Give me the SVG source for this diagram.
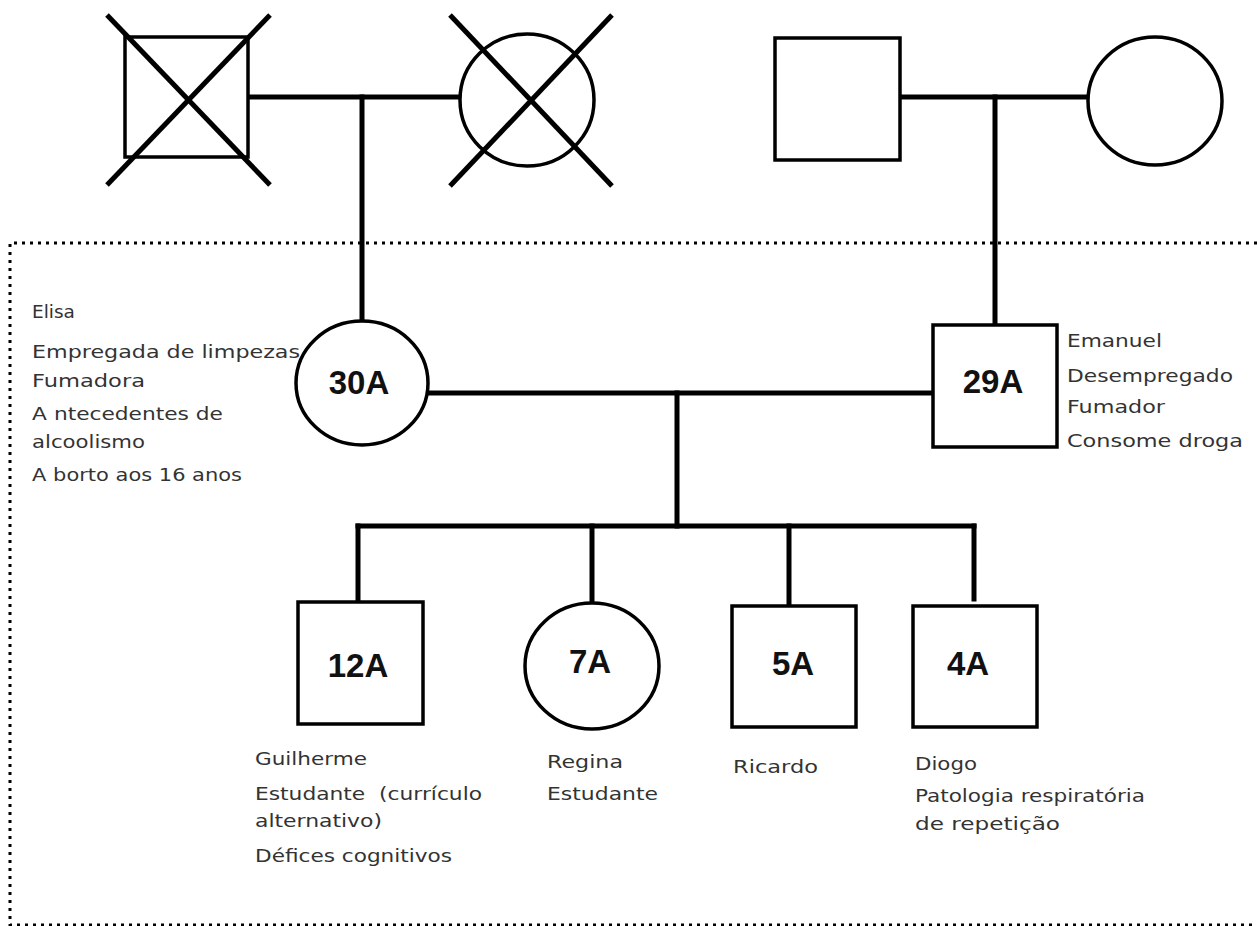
<svg xmlns="http://www.w3.org/2000/svg" width="1257" height="926" viewBox="0 0 1257 926">
<style>
.shape{fill:#fff;stroke:#000;stroke-width:3.5}
.cross{stroke:#000;stroke-width:5;stroke-linecap:butt}
.conn{stroke:#000;stroke-width:5;fill:none;stroke-linecap:square}
.frame{fill:none;stroke:#000;stroke-width:3;stroke-dasharray:3 5}
.lbl{font-family:"Liberation Sans",Arial,sans-serif;font-weight:bold;font-size:33px;fill:#111;text-anchor:middle}
.txt{font-family:"DejaVu Sans","Liberation Sans",sans-serif;font-size:18.5px;fill:#333}
</style>
<rect width="1257" height="926" fill="#fff"/>
<path class="frame" d="M1257,243 H10 V925 H1257"/>
<g id="connectors">
<line class="conn" x1="248" y1="97" x2="460" y2="97"/>
<line class="conn" x1="362" y1="97" x2="362" y2="320"/>
<line class="conn" x1="900" y1="97" x2="1088" y2="97"/>
<line class="conn" x1="995" y1="97" x2="995" y2="325"/>
<line class="conn" x1="428" y1="393" x2="933" y2="393"/>
<line class="conn" x1="677" y1="393" x2="677" y2="526"/>
<line class="conn" x1="358" y1="526" x2="974" y2="526"/>
<line class="conn" x1="358" y1="526" x2="358" y2="602"/>
<line class="conn" x1="592" y1="526" x2="592" y2="603"/>
<line class="conn" x1="789" y1="526" x2="789" y2="606"/>
<line class="conn" x1="974" y1="526" x2="974" y2="599"/>
</g>
<g id="gf-paternal">
<rect class="shape" x="125" y="37" width="123" height="120"/>
<line class="cross" x1="107" y1="15" x2="270" y2="185"/>
<line class="cross" x1="270" y1="15" x2="107" y2="185"/>
</g>
<g id="gm-paternal">
<ellipse class="shape" cx="527" cy="100" rx="67" ry="66"/>
<line class="cross" x1="450" y1="15" x2="612" y2="186"/>
<line class="cross" x1="612" y1="15" x2="450" y2="186"/>
</g>
<g id="gf-maternal">
<rect class="shape" x="775" y="38" width="125" height="122"/>
</g>
<g id="gm-maternal">
<ellipse class="shape" cx="1155" cy="101" rx="67" ry="64"/>
</g>
<g id="elisa">
<ellipse class="shape" cx="362" cy="383" rx="66" ry="62"/>
<text class="lbl" x="359" y="394">30A</text>
<text class="txt" x="32" y="318">Elisa</text>
<text class="txt" x="32" y="358" textLength="268" lengthAdjust="spacingAndGlyphs">Empregada de limpezas</text>
<text class="txt" x="32" y="387" textLength="113" lengthAdjust="spacingAndGlyphs">Fumadora</text>
<text class="txt" x="32" y="420" textLength="191" lengthAdjust="spacingAndGlyphs">A<tspan dx="6">ntecedentes de</tspan></text>
<text class="txt" x="32" y="448" textLength="113" lengthAdjust="spacingAndGlyphs">alcoolismo</text>
<text class="txt" x="32" y="481" textLength="210" lengthAdjust="spacingAndGlyphs">A<tspan dx="6">borto aos 16 anos</tspan></text>
</g>
<g id="emanuel">
<rect class="shape" x="933" y="325" width="124" height="122"/>
<text class="lbl" x="993" y="393">29A</text>
<text class="txt" x="1067" y="347" textLength="95" lengthAdjust="spacingAndGlyphs">Emanuel</text>
<text class="txt" x="1067" y="382" textLength="166" lengthAdjust="spacingAndGlyphs">Desempregado</text>
<text class="txt" x="1067" y="413" textLength="98" lengthAdjust="spacingAndGlyphs">Fumador</text>
<text class="txt" x="1067" y="447" textLength="176" lengthAdjust="spacingAndGlyphs">Consome droga</text>
</g>
<g id="guilherme">
<rect class="shape" x="298" y="602" width="125" height="122"/>
<text class="lbl" x="358" y="677">12A</text>
<text class="txt" x="255" y="765" textLength="112" lengthAdjust="spacingAndGlyphs">Guilherme</text>
<text class="txt" x="255" y="800" textLength="227" lengthAdjust="spacingAndGlyphs">Estudante&#160; (currículo</text>
<text class="txt" x="255" y="827" textLength="127" lengthAdjust="spacingAndGlyphs">alternativo)</text>
<text class="txt" x="255" y="862" textLength="197" lengthAdjust="spacingAndGlyphs">Défices cognitivos</text>
</g>
<g id="regina">
<ellipse class="shape" cx="592" cy="666" rx="67" ry="63"/>
<text class="lbl" x="590" y="673">7A</text>
<text class="txt" x="547" y="768" textLength="76" lengthAdjust="spacingAndGlyphs">Regina</text>
<text class="txt" x="547" y="800" textLength="111" lengthAdjust="spacingAndGlyphs">Estudante</text>
</g>
<g id="ricardo">
<rect class="shape" x="732" y="606" width="124" height="121"/>
<text class="lbl" x="793" y="675">5A</text>
<text class="txt" x="733" y="773" textLength="85" lengthAdjust="spacingAndGlyphs">Ricardo</text>
</g>
<g id="diogo">
<rect class="shape" x="913" y="606" width="124" height="121"/>
<text class="lbl" x="968" y="675">4A</text>
<text class="txt" x="915" y="770" textLength="62" lengthAdjust="spacingAndGlyphs">Diogo</text>
<text class="txt" x="915" y="802" textLength="230" lengthAdjust="spacingAndGlyphs">Patologia respiratória</text>
<text class="txt" x="915" y="830" textLength="145" lengthAdjust="spacingAndGlyphs">de repetição</text>
</g>
</svg>
